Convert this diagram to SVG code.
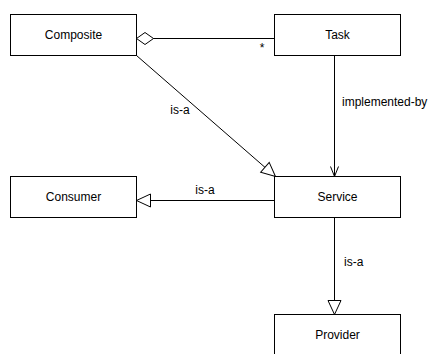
<svg xmlns="http://www.w3.org/2000/svg" width="441" height="354" viewBox="0 0 441 354">
  <style>
    .box { fill: #ffffff; stroke: #000000; stroke-width: 1; }
    .lbl { font-family: "Liberation Sans", Arial, sans-serif; font-size: 12px; fill: #000000; }
    .mid { text-anchor: middle; }
    .edge { fill: none; stroke: #000000; stroke-width: 1; }
  </style>
  <defs>
    <!-- hollow triangle: generalization -->
    <marker id="gen" markerUnits="userSpaceOnUse" markerWidth="16" markerHeight="16" refX="15" refY="7.5" orient="auto">
      <path d="M1,1 L15,7.5 L1,14 Z" fill="#ffffff" stroke="#000000" stroke-width="1"/>
    </marker>
    <!-- open arrow: dependency -->
    <marker id="open" markerUnits="userSpaceOnUse" markerWidth="12" markerHeight="12" refX="11" refY="5" orient="auto">
      <path d="M1,1 L11,5 L1,9" fill="none" stroke="#000000" stroke-width="1"/>
    </marker>
    <!-- hollow diamond: aggregation -->
    <marker id="agg" markerUnits="userSpaceOnUse" markerWidth="20" markerHeight="14" refX="1" refY="7" orient="auto">
      <path d="M1,7 L9.5,1 L18,7 L9.5,13 Z" fill="#ffffff" stroke="#000000" stroke-width="1"/>
    </marker>
  </defs>

  <g id="connectors">
    <!-- Composite aggregates Task -->
    <path class="edge" d="M136.5,38.5 L274.5,38.5" marker-start="url(#agg)"/>
    <text class="lbl mid" x="262" y="52">*</text>
    <!-- Composite is-a Service -->
    <path class="edge" d="M136.5,55.5 L275.5,176.5" marker-end="url(#gen)"/>
    <text class="lbl mid" x="180" y="114">is-a</text>
    <!-- Task implemented-by Service -->
    <path class="edge" d="M334.5,55.5 L334.5,176.5" marker-end="url(#open)"/>
    <text class="lbl" x="342" y="106">implemented-by</text>
    <!-- Service is-a Consumer -->
    <path class="edge" d="M274.5,200.5 L136.5,200.5" marker-end="url(#gen)"/>
    <text class="lbl mid" x="205" y="194">is-a</text>
    <!-- Service is-a Provider -->
    <path class="edge" d="M334.5,217.5 L334.5,314.5" marker-end="url(#gen)"/>
    <text class="lbl" x="344" y="266">is-a</text>
  </g>

  <g id="composite">
    <rect class="box" x="10.5" y="14.5" width="126" height="41"/>
    <text class="lbl mid" x="73.5" y="39">Composite</text>
  </g>
  <g id="task">
    <rect class="box" x="274.5" y="14.5" width="126" height="41"/>
    <text class="lbl mid" x="337.5" y="39">Task</text>
  </g>
  <g id="consumer">
    <rect class="box" x="10.5" y="176.5" width="126" height="41"/>
    <text class="lbl mid" x="73.5" y="201">Consumer</text>
  </g>
  <g id="service">
    <rect class="box" x="274.5" y="176.5" width="126" height="41"/>
    <text class="lbl mid" x="337.5" y="201">Service</text>
  </g>
  <g id="provider">
    <rect class="box" x="274.5" y="314.5" width="126" height="41"/>
    <text class="lbl mid" x="337.5" y="339">Provider</text>
  </g>
</svg>
